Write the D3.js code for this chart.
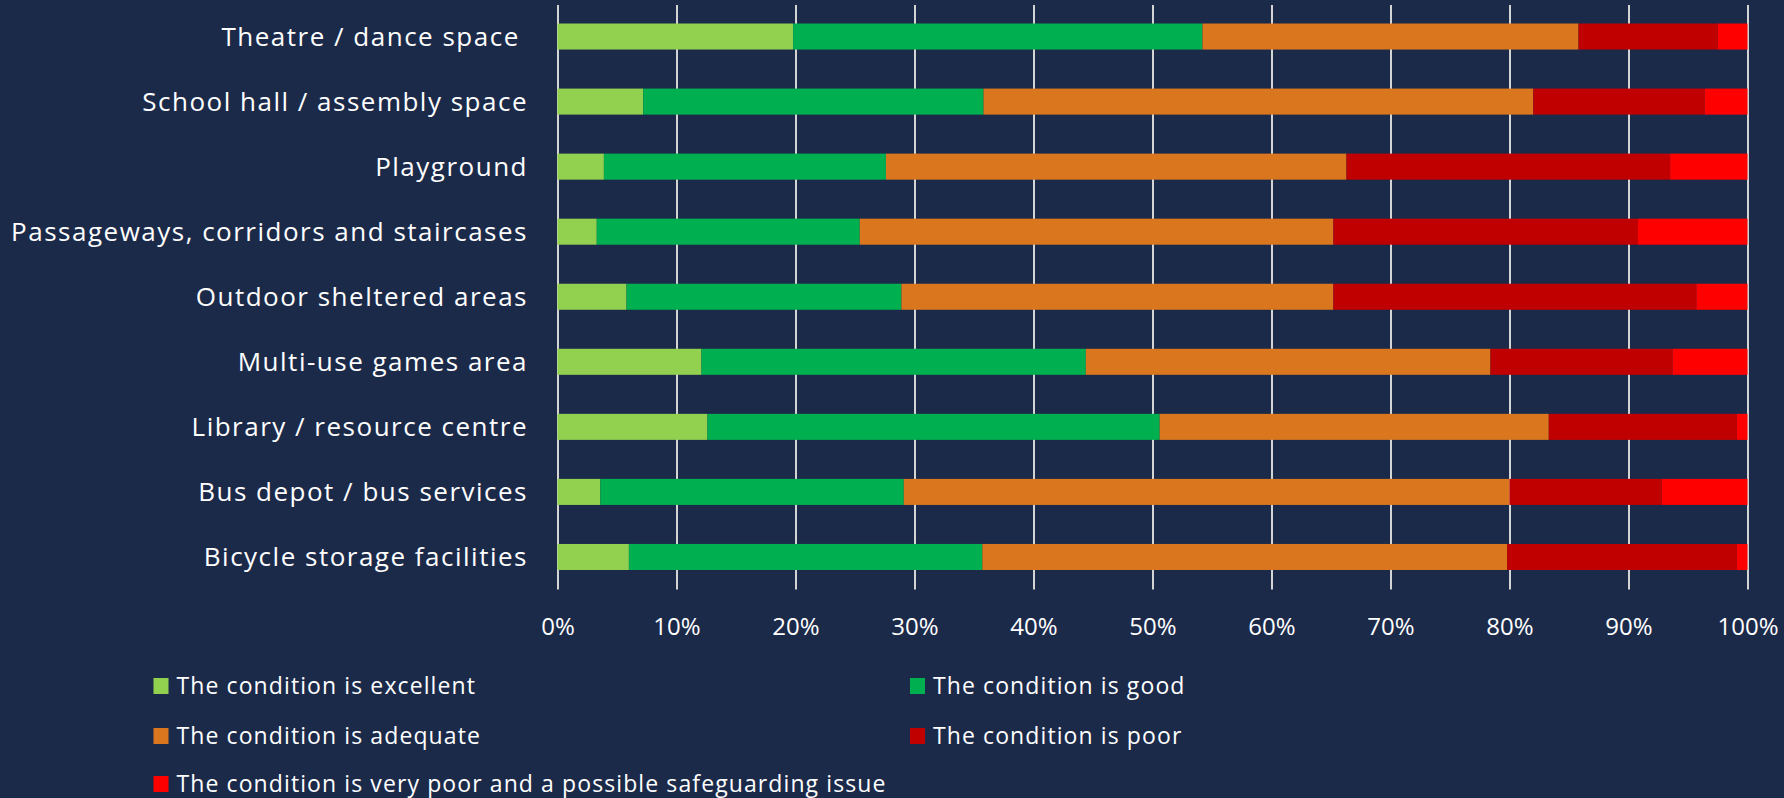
<!DOCTYPE html>
<html>
<head>
<meta charset="utf-8">
<script src="https://cdn.jsdelivr.net/npm/d3@7"></script>
<style>
  html, body { margin: 0; padding: 0; background: #1c2a4a; }
  svg { display: block; }
  text { font-family: "Open Sans", "DejaVu Sans", sans-serif; fill: #ffffff; }
</style>
</head>
<body>
<svg id="chart" width="1784" height="798"></svg>
<script>
// Facilities, top to bottom
const categories = [
  "Theatre / dance space ",
  "School hall / assembly space",
  "Playground",
  "Passageways, corridors and staircases",
  "Outdoor sheltered areas",
  "Multi-use games area",
  "Library / resource centre",
  "Bus depot / bus services",
  "Bicycle storage facilities"
];

// Share of responses (%) for each condition rating, one value per facility
const excellent = [19.8, 7.2, 3.9, 3.3, 5.8, 12.1, 12.6, 3.6, 6.0];
const good      = [34.4, 28.6, 23.7, 22.1, 23.1, 32.3, 38.0, 25.5, 29.7];
const adequate  = [31.6, 46.2, 38.7, 39.8, 36.3, 34.0, 32.7, 50.9, 44.1];
const poor      = [11.7, 14.4, 27.2, 25.6, 30.5, 15.3, 15.8, 12.8, 19.3];
const veryPoor  = [2.5, 3.6, 6.5, 9.2, 4.3, 6.3, 0.9, 7.2, 0.9];

const seriesNames = [
  "The condition is excellent",
  "The condition is good",
  "The condition is adequate",
  "The condition is poor",
  "The condition is very poor and a possible safeguarding issue"
];
const seriesColors = ["#92d050", "#00b050", "#da771e", "#c00000", "#ff0000"];

const tickValues = [0, 10, 20, 30, 40, 50, 60, 70, 80, 90, 100];

const svg = d3.select("#chart");

const x = d3.scaleLinear().domain([0, 100]).range([557.5, 1747.5]);
const y = d3.scaleBand().domain(categories).range([4, 589.5])
  .paddingInner(0.6).paddingOuter(0.3);

// Gridlines and percentage labels
const xAxis = d3.axisBottom(x)
  .tickValues(tickValues)
  .tickFormat(d => d + "%")
  .tickSize(-(589.5 - 5))
  .tickPadding(28);

const gx = svg.append("g")
  .attr("transform", "translate(0,589.5)")
  .call(xAxis);
gx.select(".domain").remove();
gx.selectAll(".tick line").attr("stroke", "#d4d4d4").attr("stroke-width", 2);
gx.selectAll(".tick text")
  .style("font-size", "24px")
  .style("font-family", "\"Open Sans\", sans-serif")
  .attr("fill", "#ffffff");

// Stacked bars
const rows = categories.map((c, i) => ({
  category: c,
  v0: excellent[i], v1: good[i], v2: adequate[i], v3: poor[i], v4: veryPoor[i]
}));
const stack = d3.stack().keys(["v0", "v1", "v2", "v3", "v4"]);
const layers = stack(rows);

svg.append("g").selectAll("g")
  .data(layers)
  .join("g")
  .attr("fill", (d, i) => seriesColors[i])
  .selectAll("rect")
  .data(d => d)
  .join("rect")
  .attr("x", d => x(d[0]))
  .attr("y", d => y(d.data.category))
  .attr("width", d => x(d[1]) - x(d[0]))
  .attr("height", y.bandwidth());

// Category labels
svg.append("g").selectAll("text")
  .data(categories)
  .join("text")
  .attr("x", 528)
  .attr("y", d => y(d) + y.bandwidth() / 2)
  .attr("dy", "0.35em")
  .attr("text-anchor", "end")
  .style("white-space", "pre")
  .style("font-size", "26px")
  .style("letter-spacing", "1.5px")
  .text(d => d);

// Legend
const legendPos = [
  [153.5, 686], [910, 686],
  [153.5, 736], [910, 736],
  [153.5, 784]
];
const legend = svg.append("g").selectAll("g")
  .data(seriesNames)
  .join("g")
  .attr("transform", (d, i) => `translate(${legendPos[i][0]},${legendPos[i][1]})`);
legend.append("rect")
  .attr("x", 0).attr("y", -8)
  .attr("width", 15).attr("height", 16)
  .attr("fill", (d, i) => seriesColors[i]);
legend.append("text")
  .attr("x", 23)
  .attr("dy", "0.35em")
  .style("font-size", "23px")
  .style("letter-spacing", "1.1px")
  .text(d => d);
</script>
</body>
</html>
